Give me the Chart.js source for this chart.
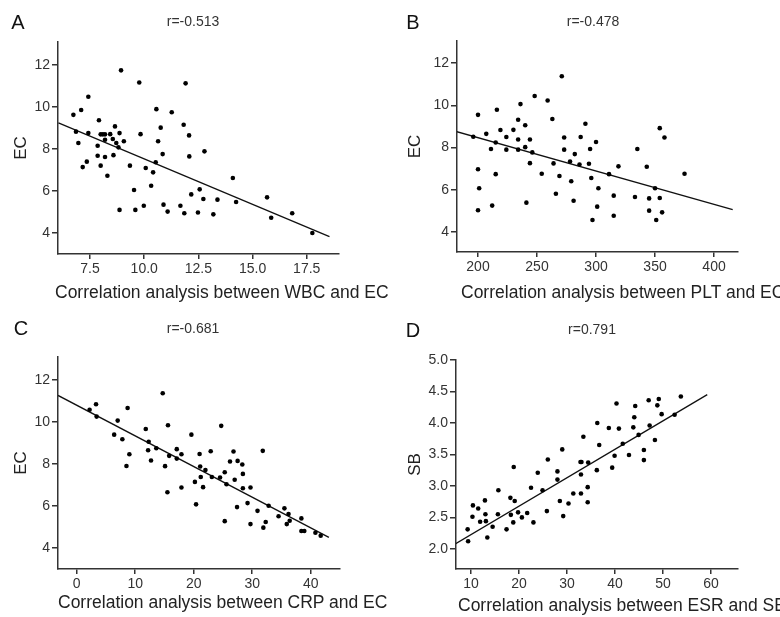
<!DOCTYPE html>
<html>
<head>
<meta charset="utf-8">
<script src="https://cdn.jsdelivr.net/npm/chart.js@4/dist/chart.umd.min.js"></script>
<style>
  body { margin: 0; background: #fff; }
  #wrap { position: relative; width: 780px; height: 617px; overflow: hidden; font-family: "Liberation Sans", Arial, sans-serif; color: #222; }
  canvas { position: absolute; }
  .lbl { position: absolute; transform: translate(-50%, -50%); line-height: 1; white-space: nowrap; }
  .letter { font-size: 20px; color: #111; }
  .rval { font-size: 14px; color: #333; }
  .xt { position: absolute; transform: translateY(-50%); line-height: 1; white-space: nowrap; font-size: 17.5px; color: #222; }
</style>
</head>
<body>
<div id="wrap">
  <canvas id="cA" width="390" height="310" style="left:0;top:0"></canvas>
  <canvas id="cB" width="390" height="310" style="left:390px;top:0"></canvas>
  <canvas id="cC" width="390" height="317" style="left:0;top:300px"></canvas>
  <canvas id="cD" width="390" height="317" style="left:390px;top:300px"></canvas>
  <div class="lbl letter" style="left:18px;top:22px">A</div>
  <div class="lbl letter" style="left:413px;top:22px">B</div>
  <div class="lbl letter" style="left:21px;top:328px">C</div>
  <div class="lbl letter" style="left:413px;top:330px">D</div>
  <div class="lbl rval" style="left:193px;top:21px">r=-0.513</div>
  <div class="lbl rval" style="left:593px;top:21px">r=-0.478</div>
  <div class="lbl rval" style="left:193px;top:328px">r=-0.681</div>
  <div class="lbl rval" style="left:592px;top:329px">r=0.791</div>
  <div class="xt" style="left:55px;top:293px">Correlation analysis between WBC and EC</div>
  <div class="xt" style="left:461px;top:293px">Correlation analysis between PLT and EC</div>
  <div class="xt" style="left:58px;top:603px">Correlation analysis between CRP and EC</div>
  <div class="xt" style="left:458px;top:606px">Correlation analysis between ESR and SB</div>
</div>
<script>
// A: WBC vs EC
var wbcA = [6.73,6.85,6.96,7.09,7.16,7.35,7.42,7.42,7.85,7.85,7.91,7.99,7.99,8.09,8.19,8.19,8.19,8.30,8.43,8.55,8.58,8.65,8.71,8.81,8.86,8.86,8.93,9.06,9.34,9.53,9.59,9.77,9.83,9.98,10.07,10.32,10.41,10.56,10.53,10.64,10.76,10.85,10.89,11.08,11.27,11.67,11.82,11.85,11.91,12.07,12.08,12.17,12.48,12.56,12.73,12.78,13.19,13.38,14.09,14.24,15.67,15.86,16.83,17.76];
var ecA  = [9.63,8.83,8.29,9.86,7.14,7.40,10.49,8.76,8.16,7.68,9.37,7.21,8.70,8.70,8.70,8.44,7.62,6.73,8.71,8.48,7.71,9.08,8.29,8.08,8.76,5.10,11.75,8.37,7.21,6.05,5.10,11.17,8.71,5.30,7.10,6.25,6.89,9.90,7.37,8.37,9.02,7.76,5.35,5.02,9.75,5.30,9.16,4.94,11.13,8.65,7.65,5.84,4.98,6.08,5.62,7.89,4.89,5.59,6.62,5.48,5.70,4.73,4.94,4.00];
var fitA = [[6.04, 9.25], [18.55, 3.83]];

// B: PLT vs EC
var pltB = [196,200,200,201,200,207,211,212,215,216,215,219,224,224,230,234,234,234,236,240,240,241,244,244,246,248,254,259,263,264,266,269,271,273,273,278,279,281,282,286,287,291,294,295,296,297,300,302,301,311,315,315,319,333,335,343,345,345,350,351,354,354,356,358,375];
var ecB  = [8.51,9.55,6.97,6.07,5.03,8.65,7.93,5.25,8.24,9.79,6.74,8.83,8.50,7.90,8.84,9.32,8.38,7.90,10.06,8.02,9.06,5.39,8.38,7.26,7.77,10.44,6.76,10.23,9.35,7.25,5.81,6.65,11.38,7.90,8.48,7.34,6.40,5.48,7.69,7.20,8.50,9.13,7.23,7.93,6.56,4.57,8.26,6.07,5.20,6.74,5.72,4.77,7.11,5.66,7.93,7.09,5.59,5.01,6.07,4.57,8.92,5.61,4.93,8.48,6.76];
var fitB = [[181.6, 8.76], [415.8, 5.06]];

// C: CRP vs EC
var crpC = [2.2,3.3,3.4,6.4,7.0,7.8,8.5,8.7,9.0,11.8,12.3,12.2,12.7,13.6,14.7,15.1,15.5,15.6,15.8,17.1,17.1,17.9,17.9,19.6,20.2,20.4,21.0,21.1,21.2,21.6,22.0,22.9,23.1,24.5,24.7,25.3,25.3,25.6,26.2,26.8,27.0,27.4,27.5,28.3,28.4,28.4,29.2,29.7,29.7,30.9,31.8,31.9,32.3,32.8,34.5,35.5,35.9,36.2,36.4,38.4,38.4,38.9,40.8,41.7];
var ecC  = [10.59,10.85,10.26,9.40,10.07,9.18,7.91,10.67,8.47,9.67,9.06,8.66,8.17,8.75,11.37,7.90,6.66,9.85,8.39,8.71,8.26,8.47,6.88,9.40,7.15,6.08,8.48,7.88,7.38,6.90,7.72,8.61,7.38,7.36,9.82,7.61,5.28,7.04,8.12,8.60,7.25,5.95,8.15,7.98,7.53,6.85,6.14,6.88,5.14,5.77,8.63,4.97,5.24,6.01,5.51,5.89,5.14,5.62,5.30,5.41,4.81,4.81,4.73,4.59];
var fitC = [[-3.2, 11.27], [43.1, 4.51]];

// D: ESR vs SB
var esrD = [9.3,9.4,10.4,10.3,11.5,11.9,12.9,13.0,13.1,13.4,14.5,15.6,15.7,17.4,18.2,18.3,18.8,18.9,19.1,19.8,20.6,21.7,22.5,23.0,23.9,24.9,25.8,26.0,28.0,28.0,28.5,29.0,29.2,30.3,31.3,32.8,32.9,32.9,33.0,33.4,34.3,34.3,34.4,36.2,36.3,36.7,38.7,39.4,39.9,40.3,40.8,41.6,42.9,43.8,44.0,44.2,44.9,46.0,46.0,47.0,47.2,48.3,48.8,49.1,49.7,52.4,53.7];
var sbD  = [2.31,2.12,2.69,2.51,2.64,2.43,2.77,2.55,2.44,2.18,2.35,2.55,2.93,2.31,2.81,2.54,2.42,3.30,2.76,2.58,2.50,2.57,2.97,2.42,3.21,2.93,2.60,3.42,3.23,3.10,2.76,3.58,2.52,2.72,2.88,3.38,2.88,3.18,3.38,3.78,2.98,2.74,3.37,3.25,4.00,3.65,3.92,3.29,3.48,4.31,3.91,3.67,3.49,3.93,4.09,4.27,3.81,3.57,3.41,4.36,3.96,3.73,4.28,4.38,4.14,4.13,4.42];
var fitD = [[6.8, 2.08], [59.2, 4.45]];

var axisColor = '#333';

function pts(xs, ys) {
  return xs.map(function(x, i) { return {x: x, y: ys[i]}; });
}

function makePanel(id, xs, ys, fit, cfg) {
  var ctx = document.getElementById(id).getContext('2d');
  return new Chart(ctx, {
    type: 'scatter',
    data: {
      datasets: [
        {
          data: pts(xs, ys),
          backgroundColor: '#000',
          borderColor: '#000',
          pointRadius: 2.3,
          pointBorderWidth: 0
        },
        {
          data: fit.map(function(p) { return {x: p[0], y: p[1]}; }),
          showLine: true,
          borderColor: '#111',
          borderWidth: 1.3,
          pointRadius: 0
        }
      ]
    },
    options: {
      responsive: false,
      animation: false,
      layout: { padding: cfg.pad },
      plugins: { legend: { display: false }, tooltip: { enabled: false } },
      scales: {
        x: {
          type: 'linear',
          min: cfg.xMin, max: cfg.xMax,
          afterBuildTicks: function(s) { s.ticks = cfg.xTicks.map(function(v) { return {value: v}; }); },
          afterFit: function(s) { s.height = cfg.xH; },
          ticks: {
            color: '#333', font: { family: 'Liberation Sans', size: 14 }, padding: 2,
            maxRotation: 0, autoSkip: false,
            callback: function(v) { return cfg.xFmt ? v.toFixed(cfg.xFmt) : String(v); }
          },
          grid: { drawOnChartArea: false, drawTicks: true, tickLength: 5, color: axisColor, lineWidth: 1.5 },
          border: { display: true, color: axisColor, width: 1.5 }
        },
        y: {
          type: 'linear',
          min: cfg.yMin, max: cfg.yMax,
          afterBuildTicks: function(s) { s.ticks = cfg.yTicks.map(function(v) { return {value: v}; }); },
          afterFit: function(s) { s.width = cfg.yW; },
          ticks: {
            color: '#333', font: { family: 'Liberation Sans', size: 14 }, padding: 2,
            autoSkip: false,
            callback: function(v) { return cfg.yFmt ? v.toFixed(cfg.yFmt) : String(v); }
          },
          grid: { drawOnChartArea: false, drawTicks: true, tickLength: 6, color: axisColor, lineWidth: 1.5 },
          border: { display: true, color: axisColor, width: 1.5 },
          title: {
            display: true, text: cfg.yTitle, color: '#222',
            font: { family: 'Liberation Sans', size: 17, lineHeight: 1 },
            padding: { top: cfg.yTitlePad, bottom: 0 }
          }
        }
      }
    }
  });
}

makePanel('cA', wbcA, ecA, fitA, {
  pad: { top: 42, right: 51, bottom: 0, left: 0 },
  xMin: 6.02, xMax: 18.99, xTicks: [7.5, 10, 12.5, 15, 17.5], xFmt: 1, xH: 56,
  yMin: 3, yMax: 13.1, yTicks: [4, 6, 8, 10, 12], yW: 58, yTitlePad: 13, yTitle: 'EC'
});
makePanel('cB', pltB, ecB, fitB, {
  pad: { top: 41, right: 42, bottom: 0, left: 0 },
  xMin: 182.2, xMax: 420.3, xTicks: [200, 250, 300, 350, 400], xH: 58,
  yMin: 3.05, yMax: 13.05, yTicks: [4, 6, 8, 10, 12], yW: 67, yTitlePad: 17, yTitle: 'EC'
});
makePanel('cC', crpC, ecC, fitC, {
  pad: { top: 57, right: 50, bottom: 0, left: 0 },
  xMin: -3.2, xMax: 45, xTicks: [0, 10, 20, 30, 40], xH: 48,
  yMin: 3, yMax: 13.1, yTicks: [4, 6, 8, 10, 12], yW: 58, yTitlePad: 13, yTitle: 'EC'
});
makePanel('cD', esrD, sbD, fitD, {
  pad: { top: 60, right: 42, bottom: 0, left: 0 },
  xMin: 6.875, xMax: 65.6, xTicks: [10, 20, 30, 40, 50, 60], xH: 48,
  yMin: 1.68, yMax: 5.0, yTicks: [2, 2.5, 3, 3.5, 4, 4.5, 5], yFmt: 1, yW: 66, yTitlePad: 17, yTitle: 'SB'
});
</script>
</body>
</html>
